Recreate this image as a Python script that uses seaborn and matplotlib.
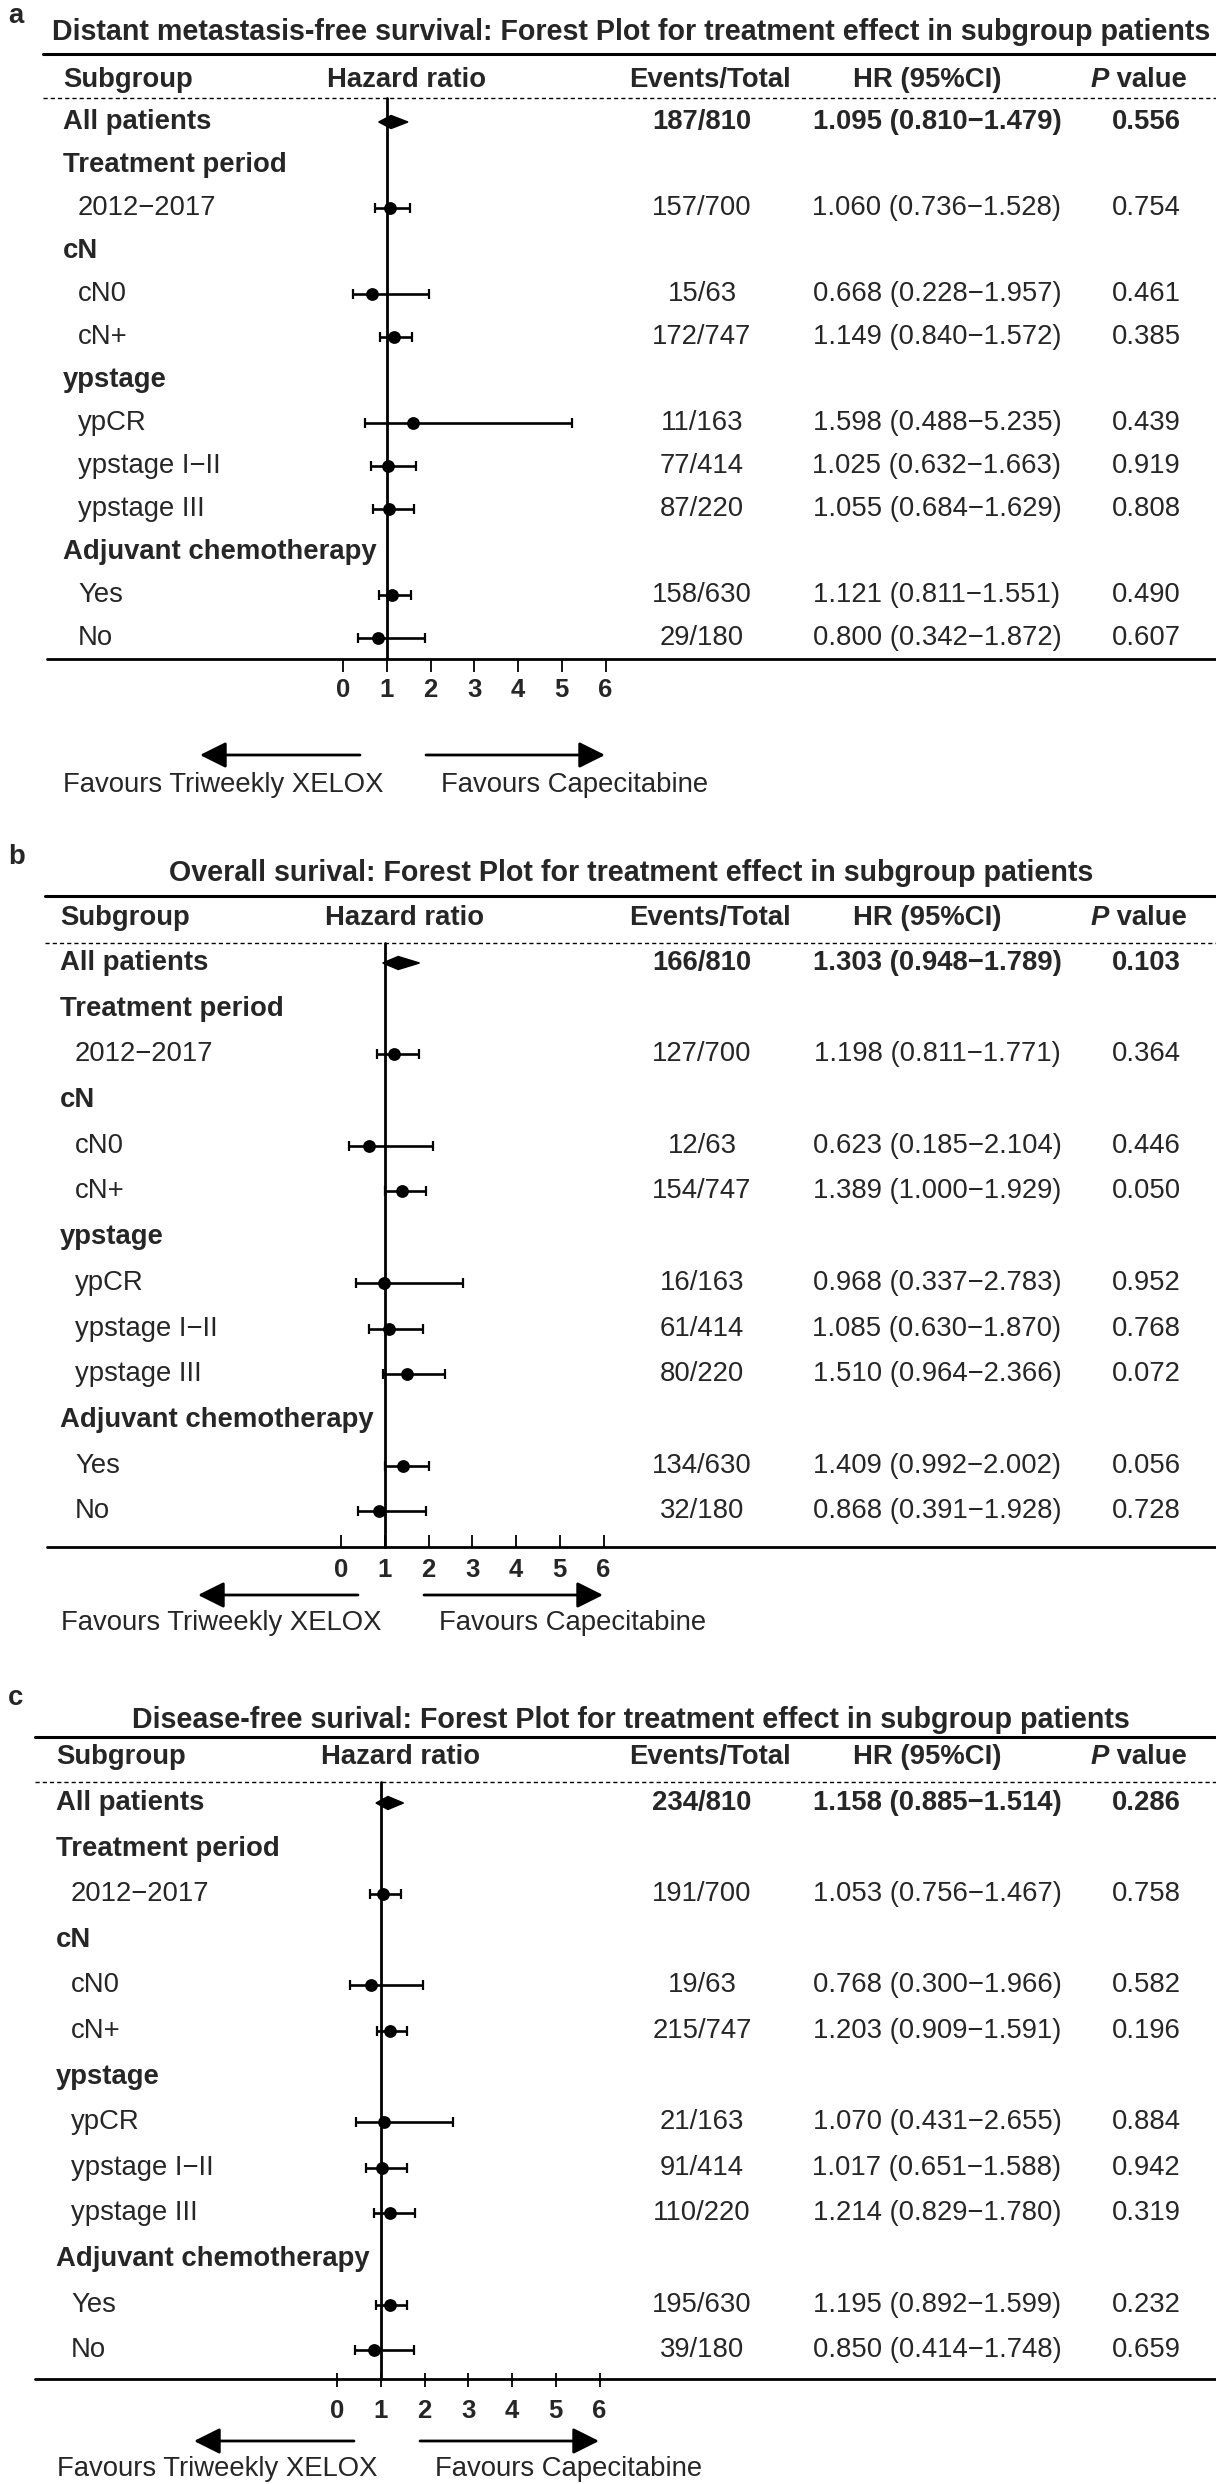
import pandas as pd
import matplotlib
matplotlib.use("Agg")
import matplotlib.pyplot as plt
import matplotlib.transforms as mtransforms
import seaborn as sns

# rows of the table (shared by the three panels)
row_labels = ["All patients", "Treatment period", "2012\u22122017", "cN", "cN0", "cN+",
              "ypstage", "ypCR", "ypstage I\u2212II", "ypstage III",
              "Adjuvant chemotherapy", "Yes", "No"]
row_kind = ["all", "group", "sub", "group", "sub", "sub",
            "group", "sub", "sub", "sub", "group", "sub", "sub"]

# a: distant metastasis-free survival
dmfs_events = ["187/810", "157/700", "15/63", "172/747", "11/163", "77/414", "87/220", "158/630", "29/180"]
dmfs_hr = [1.095, 1.060, 0.668, 1.149, 1.598, 1.025, 1.055, 1.121, 0.800]
dmfs_lo = [0.810, 0.736, 0.228, 0.840, 0.488, 0.632, 0.684, 0.811, 0.342]
dmfs_hi = [1.479, 1.528, 1.957, 1.572, 5.235, 1.663, 1.629, 1.551, 1.872]
dmfs_p = ["0.556", "0.754", "0.461", "0.385", "0.439", "0.919", "0.808", "0.490", "0.607"]

# b: overall survival
os_events = ["166/810", "127/700", "12/63", "154/747", "16/163", "61/414", "80/220", "134/630", "32/180"]
os_hr = [1.303, 1.198, 0.623, 1.389, 0.968, 1.085, 1.510, 1.409, 0.868]
os_lo = [0.948, 0.811, 0.185, 1.000, 0.337, 0.630, 0.964, 0.992, 0.391]
os_hi = [1.789, 1.771, 2.104, 1.929, 2.783, 1.870, 2.366, 2.002, 1.928]
os_p = ["0.103", "0.364", "0.446", "0.050", "0.952", "0.768", "0.072", "0.056", "0.728"]

# c: disease-free survival
dfs_events = ["234/810", "191/700", "19/63", "215/747", "21/163", "91/414", "110/220", "195/630", "39/180"]
dfs_hr = [1.158, 1.053, 0.768, 1.203, 1.070, 1.017, 1.214, 1.195, 0.850]
dfs_lo = [0.885, 0.756, 0.300, 0.909, 0.431, 0.651, 0.829, 0.892, 0.414]
dfs_hi = [1.514, 1.467, 1.966, 1.591, 2.655, 1.588, 1.780, 1.599, 1.748]
dfs_p = ["0.286", "0.758", "0.582", "0.196", "0.884", "0.942", "0.319", "0.232", "0.659"]

tick_values = [0, 1, 2, 3, 4, 5, 6]

W, H = 1216, 2484
UNIT = 43.7   # pixels per HR unit
FS = 19.8

sns.set_theme(style="white")
plt.rcParams["font.family"] = ["Liberation Sans", "DejaVu Sans"]

fig = plt.figure(figsize=(W / 100, H / 100), dpi=100)
fig.patch.set_facecolor("white")


def draw_panel(letter, title, events, hr, lo, hi, pvals, lay):
    top, bottom = lay["band"]
    row0, step, x1 = lay["row0"], lay["step"], lay["x1"]
    ax = fig.add_axes([0, 1 - bottom / H, 1, (bottom - top) / H])

    def r(px):
        return (px - row0) / step

    def fx(px):
        return px / W

    tr = mtransforms.blended_transform_factory(ax.transAxes, ax.transData)

    # letter + title
    ax.text(fx(8), r(lay["letter"]), letter, transform=tr, fontsize=FS, fontweight="bold",
            ha="left", va="center")
    ax.text(fx(631), r(lay["title"]), title, transform=tr, fontsize=20.6, fontweight="bold",
            ha="center", va="center")

    # header lines and header texts
    ax.plot([fx(lay["left"]), 1], [r(lay["thick"])] * 2, transform=tr, color="black", lw=2.2)
    ax.plot([fx(lay["left"]), 1], [r(lay["dashed"])] * 2, transform=tr, color="black", lw=1,
            dashes=(3, 2.2))
    yh = r(lay["header"])
    ax.text(fx(lay["bold"]), yh, "Subgroup", transform=tr, fontsize=FS, fontweight="bold", va="center")
    ax.text(fx(x1 + 20), yh, "Hazard ratio", transform=tr, fontsize=FS, fontweight="bold",
            ha="center", va="center")
    ax.text(fx(710), yh, "Events/Total", transform=tr, fontsize=FS, fontweight="bold",
            ha="center", va="center")
    ax.text(fx(927), yh, "HR (95%CI)", transform=tr, fontsize=FS, fontweight="bold",
            ha="center", va="center")
    ax.text(fx(1109), yh, "P", transform=tr, fontsize=FS, fontweight="bold", fontstyle="italic",
            ha="right", va="center")
    ax.text(fx(1109), yh, " value", transform=tr, fontsize=FS, fontweight="bold",
            ha="left", va="center")

    # table rows
    data_rows = [i for i, k in enumerate(row_kind) if k != "group"]
    df = pd.DataFrame({"y": data_rows, "kind": [row_kind[i] for i in data_rows],
                       "events": events, "hr": hr, "lo": lo, "hi": hi, "p": pvals})
    for i, (lab, kind) in enumerate(zip(row_labels, row_kind)):
        if kind == "sub":
            ax.text(fx(lay["bold"] + 15), i, lab, transform=tr, fontsize=FS, va="center")
        else:
            ax.text(fx(lay["bold"]), i, lab, transform=tr, fontsize=FS, fontweight="bold", va="center")
    for _, row in df.iterrows():
        w = "bold" if row["kind"] == "all" else "normal"
        ax.text(fx(702), row["y"], row["events"], transform=tr, fontsize=FS, fontweight=w,
                ha="center", va="center")
        ax.text(fx(937), row["y"], f"{row['hr']:.3f} ({row['lo']:.3f}\u2212{row['hi']:.3f})",
                transform=tr, fontsize=FS, fontweight=w, ha="center", va="center")
        ax.text(fx(1146), row["y"], row["p"], transform=tr, fontsize=FS, fontweight=w,
                ha="center", va="center")

    # reference line at HR = 1
    ax.plot([1, 1], [r(lay["dashed"]), r(lay["axis"])], color="black", lw=2, zorder=3)

    # overall estimate as a diamond
    allp = df[df["kind"] == "all"].iloc[0]
    d = 6.5 / step
    ax.fill([allp["lo"], allp["hr"], allp["hi"], allp["hr"]],
            [allp["y"], allp["y"] - d, allp["y"], allp["y"] + d], color="black", zorder=4)

    # subgroup estimates
    sub = df[df["kind"] == "sub"]
    ax.errorbar(sub["hr"], sub["y"], xerr=[sub["hr"] - sub["lo"], sub["hi"] - sub["hr"]],
                fmt="none", ecolor="black", elinewidth=1.9, capsize=3.6, capthick=1.6, zorder=3)
    sns.scatterplot(data=sub, x="hr", y="y", color="black", s=85, linewidth=0,
                    ax=ax, zorder=5, legend=False)
    ax.set_xlim(1 - x1 / UNIT, 1 + (W - x1) / UNIT)
    ax.set_ylim((bottom - row0) / step, (top - row0) / step)
    ax.axis("off")

    # x axis
    ya = r(lay["axis"])
    ax.plot([fx(lay["axis_left"]), 1], [ya, ya], transform=tr, color="black", lw=2)
    t_up, t_down = lay["ticks"]
    ax.vlines(tick_values, ya - t_up / step, ya + t_down / step, color="black", lw=1.3)
    for v in tick_values:
        ax.text(v, r(lay["ticklab"]), str(v), fontsize=18.5, fontweight="bold",
                ha="center", va="center")

    # favours arrows
    ya = r(lay["arrow"])
    arr = dict(arrowstyle="-|>,head_length=0.4,head_width=0.2", color="black", lw=2,
               mutation_scale=40, shrinkA=0, shrinkB=0)
    ax.annotate("", xy=(fx(x1 - 187), ya), xytext=(fx(x1 - 27), ya), xycoords=tr,
                textcoords=tr, arrowprops=arr)
    ax.annotate("", xy=(fx(x1 + 218), ya), xytext=(fx(x1 + 39), ya), xycoords=tr,
                textcoords=tr, arrowprops=arr)
    yf = r(lay["favours"])
    ax.text(fx(x1 - 324), yf, "Favours Triweekly XELOX", transform=tr, fontsize=FS,
            ha="left", va="center")
    ax.text(fx(x1 + 54), yf, "Favours Capecitabine", transform=tr, fontsize=FS,
            ha="left", va="center")


layout_a = dict(band=(0, 810), letter=16, title=32, thick=54, header=80, dashed=98,
                row0=122, step=43.0, axis=659, ticklab=690, arrow=755, favours=785,
                x1=387, bold=63, left=43, axis_left=47, ticks=(0, 13))
layout_b = dict(band=(810, 1650), letter=857, title=873, thick=896, header=918, dashed=943,
                row0=963, step=45.7, axis=1547, ticklab=1570, arrow=1595, favours=1623,
                x1=385, bold=60, left=45, axis_left=47, ticks=(12, 0))
layout_c = dict(band=(1650, 2484), letter=1698, title=1720, thick=1737, header=1757, dashed=1782,
                row0=1803, step=45.6, axis=2379, ticklab=2411, arrow=2441, favours=2469,
                x1=381, bold=56, left=35, axis_left=35, ticks=(6, 8))

draw_panel("a", "Distant metastasis-free survival: Forest Plot for treatment effect in subgroup patients",
           dmfs_events, dmfs_hr, dmfs_lo, dmfs_hi, dmfs_p, layout_a)
draw_panel("b", "Overall surival: Forest Plot for treatment effect in subgroup patients",
           os_events, os_hr, os_lo, os_hi, os_p, layout_b)
draw_panel("c", "Disease-free surival: Forest Plot for treatment effect in subgroup patients",
           dfs_events, dfs_hr, dfs_lo, dfs_hi, dfs_p, layout_c)

fig.savefig("out.png", dpi=100, facecolor="white")
